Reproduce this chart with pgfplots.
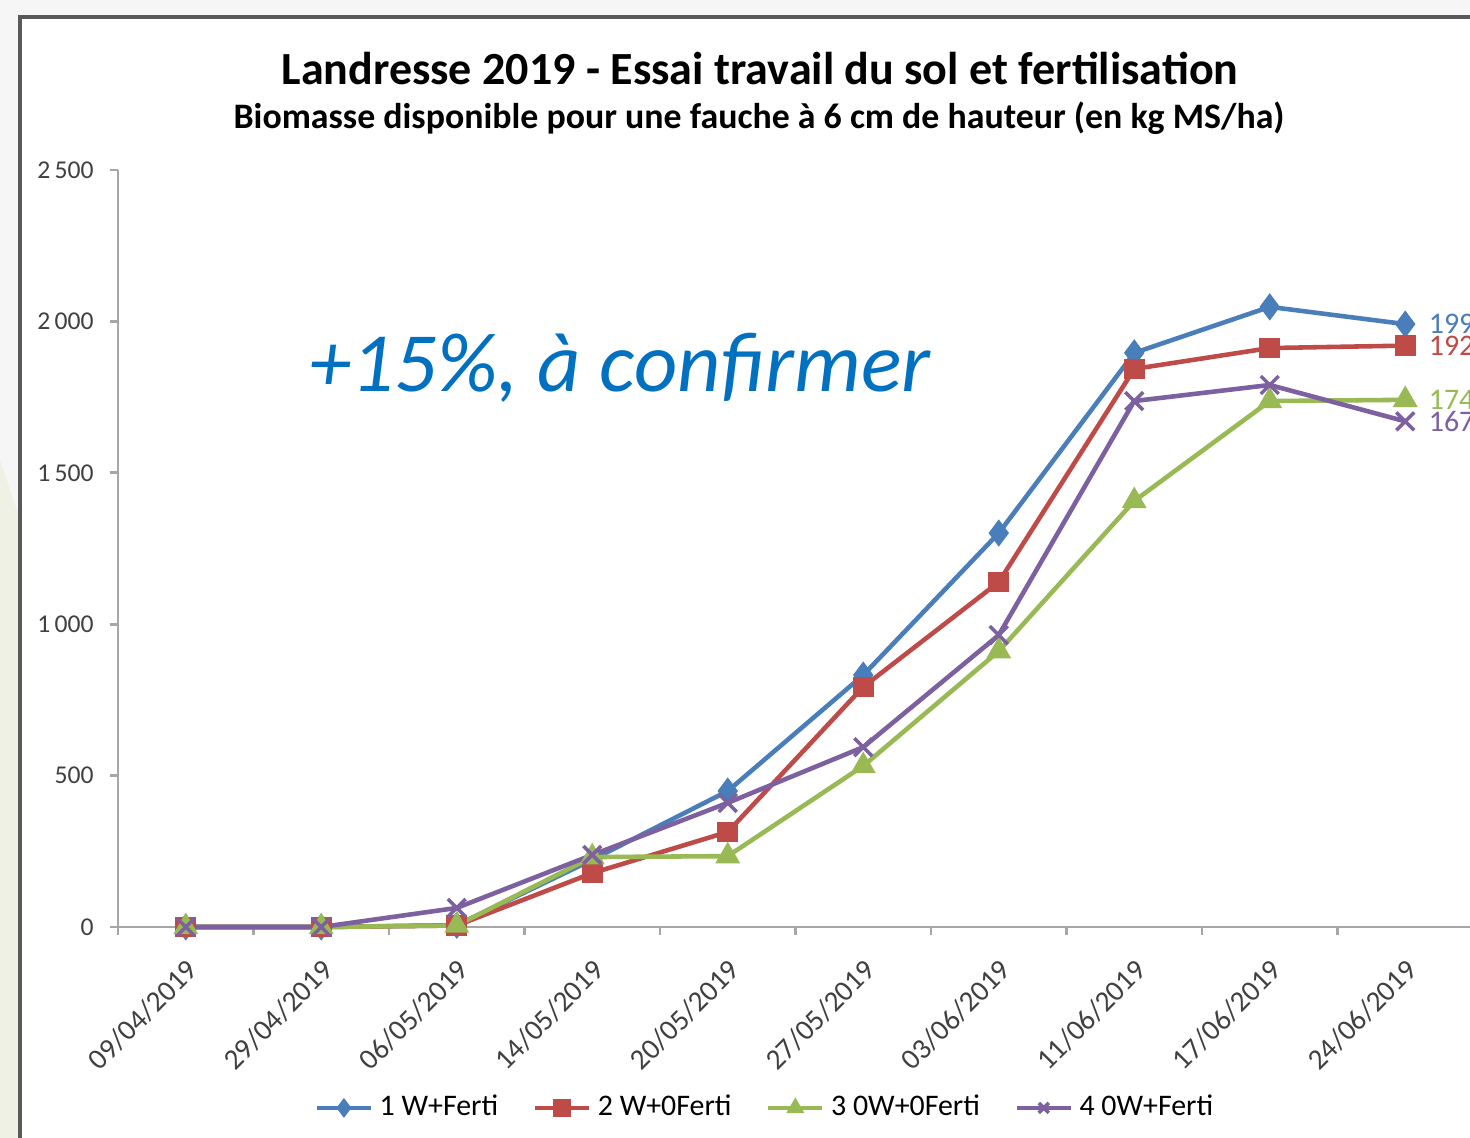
\documentclass[border=0pt]{standalone}
\usepackage{fontspec}
\setmainfont{Carlito}
\usepackage{pgfplots}
\pgfplotsset{compat=1.18}
\definecolor{s1}{HTML}{4A7EBB}
\definecolor{s2}{HTML}{BE4B48}
\definecolor{s3}{HTML}{98B954}
\definecolor{s4}{HTML}{7D60A0}
\definecolor{annot}{HTML}{0070C0}
\definecolor{axisgray}{HTML}{A6A6A6}
\definecolor{ticktext}{HTML}{404040}
\definecolor{pagegreen}{HTML}{EEF1E4}

\begin{document}
\begin{tikzpicture}
% page is 1470 x 1138 px, 1 px = 0.01 cm
\clip (0,0) rectangle (14.70,-11.38);
\fill[gray!7] (0,0) rectangle (14.70,-11.38);
\fill[pagegreen] (0,-4.6) -- (0.20,-5.2) -- (0.20,-11.38) -- (0,-11.38) -- cycle;
\draw[gray!70!black, line width=1pt, fill=white] (0.20,-0.17) rectangle (15.2,-11.6);
\node[font=\bfseries\fontsize{13.1}{15}\selectfont] at (7.60,-0.68)
  {Landresse 2019 - Essai travail du sol et fertilisation};
\node[font=\bfseries\fontsize{10.2}{12}\selectfont] at (7.59,-1.18)
  {Biomasse disponible pour une fauche à 6 cm de hauteur (en kg MS/ha)};
\coordinate (corner) at (1.18,-9.27);

\begin{axis}[
    at={(corner)}, anchor=south west,
    scale only axis, width=13.55cm, height=7.57cm,
    xmin=-0.5, xmax=9.5, ymin=0, ymax=2500,
    axis x line*=bottom, axis y line*=left,
    axis line style={-, draw=axisgray, line width=0.8pt},
    clip=false,
    xtick={0,...,9},
    xticklabels={09/04/2019,29/04/2019,06/05/2019,14/05/2019,20/05/2019,27/05/2019,03/06/2019,11/06/2019,17/06/2019,24/06/2019},
    ytick={0,500,...,2500},
    minor xtick={-0.5,0.5,...,9.5},
    minor ytick={0,500,...,2500},
    major tick length=0pt,
    minor tick length=0.08cm,
    tick align=outside,
    tick style={draw=axisgray, line width=0.8pt},
    xticklabel style={rotate=45, anchor=north east, inner sep=1pt, text=ticktext,
        font=\fontsize{8.3}{10}\selectfont, yshift=-0.17cm, xshift=-0.18cm},
    yticklabel style={text=ticktext, font=\fontsize{7.3}{8}\selectfont, xshift=-0.12cm},
    /pgf/number format/1000 sep={\,},
    /pgf/number format/assume math mode=true,
    legend columns=4,
    legend cell align=left,
    legend image code/.code={
        \draw[mark repeat=2, mark phase=2, mark size=2pt, line width=1pt]
            plot coordinates {(0cm,0cm) (0.27cm,0cm) (0.54cm,0cm)};},
    legend style={at={(0.4795,-0.239)}, anchor=center, draw=none, fill=none,
        font=\fontsize{8.5}{10}\selectfont,
        /tikz/every even column/.append style={column sep=0.28cm}},
]
\addplot[s1, line width=1.3pt, mark=diamond*, mark size=2.8pt] coordinates {
    (0,0) (1,0) (2,6) (3,222) (4,449) (5,832) (6,1301) (7,1896) (8,2048) (9,1991)};
\addlegendentry{1 W+Ferti}
\addplot[s2, line width=1.3pt, mark=square*, mark size=2.3pt] coordinates {
    (0,0) (1,0) (2,5) (3,178) (4,314) (5,793) (6,1139) (7,1843) (8,1912) (9,1920)};
\addlegendentry{2 W+0Ferti}
\addplot[s3, line width=1.3pt, mark=triangle*, mark size=2.8pt] coordinates {
    (0,0) (1,0) (2,5) (3,231) (4,234) (5,532) (6,911) (7,1407) (8,1737) (9,1741)};
\addlegendentry{3 0W+0Ferti}
\addplot[s4, line width=1.3pt, mark=x, mark size=3.6pt, mark options={line width=1pt}] coordinates {
    (0,0) (1,0) (2,63) (3,238) (4,410) (5,594) (6,964) (7,1737) (8,1790) (9,1670)};
\addlegendentry{4 0W+Ferti}

% data labels of the last point
\node[anchor=west, inner sep=0pt, xshift=0.23cm, text=s1, font=\fontsize{8.5}{10}\selectfont] at (axis cs:9,1991) {1991};
\node[anchor=west, inner sep=0pt, xshift=0.23cm, text=s2, font=\fontsize{8.5}{10}\selectfont] at (axis cs:9,1920) {1920};
\node[anchor=west, inner sep=0pt, xshift=0.23cm, text=s3, font=\fontsize{8.5}{10}\selectfont] at (axis cs:9,1741) {1741};
\node[anchor=west, inner sep=0pt, xshift=0.23cm, text=s4, font=\fontsize{8.5}{10}\selectfont] at (axis cs:9,1670) {1670};
\end{axis}

\node[text=annot, font=\itshape\fontsize{24}{28}\selectfont] at (6.20,-3.68) {+15\%, à confirmer};
\end{tikzpicture}
\end{document}
